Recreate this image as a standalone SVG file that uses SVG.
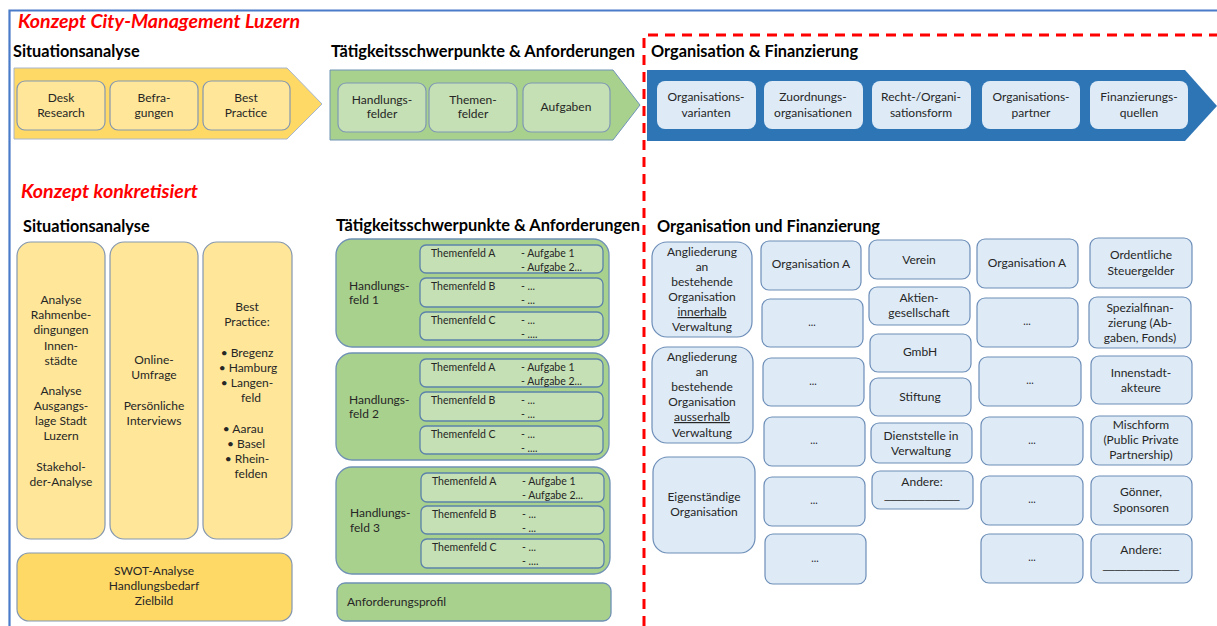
<svg xmlns="http://www.w3.org/2000/svg" width="1217" height="626" viewBox="0 0 1217 626">
<style>
text{font-family:Lato,"Liberation Sans",sans-serif;fill:#262626;font-size:12px}
.c{text-anchor:middle}
.h{font-weight:bold;font-size:16.3px;fill:#000}
.t{font-weight:bold;font-style:italic;font-size:18px;fill:#ff0000}
.s{font-size:10.5px}
.u{text-decoration:underline}
.ln{font-family:"Liberation Sans",sans-serif;font-size:11px}
.yb{fill:#ffe699;stroke:#8497b0;stroke-width:1.2}
.gb{fill:#c5e0b4;stroke:#7f98b4;stroke-width:1.2}
.hf{fill:#a9d18e;stroke:#6f91b4;stroke-width:1.3}
.tf{fill:#c5e0b4;stroke:#5b82aa;stroke-width:1.3}
.bb{fill:#deebf7;stroke:#6d8eb8;stroke-width:1.2}
.bt{fill:#deebf7}
</style>
<rect width="1217" height="626" fill="#fff"/>
<g id="frame" fill="none">
<path d="M9.5 626V10.5H1217" stroke="#4a7bc8" stroke-width="2.2"/>
<path d="M644 626V35H1217" stroke="#ff0000" stroke-width="3" stroke-dasharray="10 7"/>
</g>
<text class="t" x="18" y="28" textLength="282" lengthAdjust="spacingAndGlyphs">Konzept City-Management Luzern</text>
<text class="t" x="21" y="198" textLength="177" lengthAdjust="spacingAndGlyphs">Konzept konkretisiert</text>

<g id="phase1">
<text class="h" x="13" y="57">Situationsanalyse</text>
<polygon points="14,68 287,68 322,104 287,139 14,139" fill="#ffd966" stroke="#a8b6cc" stroke-width="1"/>
<g id="p1-desk"><rect class="yb" x="17" y="81" width="88" height="49" rx="8"/><text class="c" x="61" y="102">Desk</text><text class="c" x="61" y="117">Research</text></g>
<g id="p1-befr"><rect class="yb" x="110" y="81" width="88" height="49" rx="8"/><text class="c" x="154" y="102">Befra-</text><text class="c" x="154" y="117">gungen</text></g>
<g id="p1-best"><rect class="yb" x="203" y="81" width="87" height="49" rx="8"/><text class="c" x="246" y="102">Best</text><text class="c" x="246" y="117">Practice</text></g>
</g>

<g id="phase2">
<text class="h" x="331" y="57" textLength="304" lengthAdjust="spacingAndGlyphs">Tätigkeitsschwerpunkte &amp; Anforderungen</text>
<polygon points="330,70 613,70 640,105 613,140 330,140" fill="#a9d18e" stroke="#6f94b8" stroke-width="1"/>
<g id="p2-hf"><rect class="gb" x="338" y="83" width="88" height="49" rx="8"/><text class="c" x="382" y="104">Handlungs-</text><text class="c" x="382" y="118">felder</text></g>
<g id="p2-tf"><rect class="gb" x="429" y="83" width="88" height="49" rx="8"/><text class="c" x="473" y="104">Themen-</text><text class="c" x="473" y="118">felder</text></g>
<g id="p2-auf"><rect class="gb" x="523" y="83" width="87" height="49" rx="8"/><text class="c" x="566" y="111">Aufgaben</text></g>
</g>

<g id="phase3">
<text class="h" x="651" y="57" textLength="207" lengthAdjust="spacingAndGlyphs">Organisation &amp; Finanzierung</text>
<polygon points="647,70 1185,70 1217,106 1185,141 647,141" fill="#2e75b6"/>
<g id="p3-1"><rect class="bt" x="657" y="81" width="99" height="48" rx="8"/><text class="c" x="706" y="101">Organisations-</text><text class="c" x="706" y="117">varianten</text></g>
<g id="p3-2"><rect class="bt" x="764" y="81" width="99" height="48" rx="8"/><text class="c" x="813" y="101">Zuordnungs-</text><text class="c" x="813" y="117">organisationen</text></g>
<g id="p3-3"><rect class="bt" x="872" y="81" width="99" height="48" rx="8"/><text class="c" x="921" y="101">Recht-/Organi-</text><text class="c" x="921" y="117">sationsform</text></g>
<g id="p3-4"><rect class="bt" x="982" y="81" width="98" height="48" rx="8"/><text class="c" x="1031" y="101">Organisations-</text><text class="c" x="1031" y="117">partner</text></g>
<g id="p3-5"><rect class="bt" x="1090" y="81" width="98" height="48" rx="8"/><text class="c" x="1139" y="101">Finanzierungs-</text><text class="c" x="1139" y="117">quellen</text></g>
</g>

<g id="situation">
<text class="h" x="23" y="232">Situationsanalyse</text>
<g id="sa-analyse"><rect class="yb" x="17" y="242" width="88" height="297" rx="14"/>
<text class="c" x="61" y="304">Analyse</text><text class="c" x="61" y="319">Rahmenbe-</text><text class="c" x="61" y="334">dingungen</text><text class="c" x="61" y="350">Innen-</text><text class="c" x="61" y="365">städte</text>
<text class="c" x="61" y="395">Analyse</text><text class="c" x="61" y="410">Ausgangs-</text><text class="c" x="61" y="425">lage Stadt</text><text class="c" x="61" y="440">Luzern</text>
<text class="c" x="61" y="471">Stakehol-</text><text class="c" x="61" y="486">der-Analyse</text></g>
<g id="sa-umfrage"><rect class="yb" x="110" y="242" width="88" height="297" rx="14"/>
<text class="c" x="154" y="364">Online-</text><text class="c" x="154" y="379">Umfrage</text><text class="c" x="154" y="410">Persönliche</text><text class="c" x="154" y="425">Interviews</text></g>
<g id="sa-best"><rect class="yb" x="203" y="242" width="89" height="297" rx="14"/>
<text class="c" x="247" y="311">Best</text><text class="c" x="247" y="326">Practice:</text>
<text class="c" x="247" y="357">• Bregenz</text><text class="c" x="248" y="372">•  Hamburg</text><text class="c" x="247" y="387">•  Langen-</text><text class="c" x="251" y="402">feld</text>
<text class="c" x="243" y="433">• Aarau</text><text class="c" x="246" y="448">• Basel</text><text class="c" x="247" y="463">• Rhein-</text><text class="c" x="251" y="478">felden</text></g>
<g id="sa-swot"><rect x="17" y="553" width="275" height="68" rx="12" fill="#ffd966" stroke="#8497b0" stroke-width="1.2"/>
<text class="c" x="154" y="575">SWOT-Analyse</text><text class="c" x="154" y="590">Handlungsbedarf</text><text class="c" x="154" y="605">Zielbild</text></g>
</g>

<g id="taetigkeit">
<text class="h" x="336" y="231" textLength="304" lengthAdjust="spacingAndGlyphs">Tätigkeitsschwerpunkte &amp; Anforderungen</text>
<g id="hf1"><rect class="hf" x="336" y="239" width="273" height="108" rx="16"/>
<text x="349" y="290">Handlungs-</text><text x="349" y="304">feld 1</text>
<rect class="tf" x="420" y="245" width="183" height="28" rx="6"/><text class="s" x="431" y="257">Themenfeld A</text><text class="s" x="521" y="257">- Aufgabe 1</text><text class="s" x="521" y="271">- Aufgabe 2...</text>
<rect class="tf" x="420" y="278" width="183" height="29" rx="6"/><text class="s" x="431" y="290">Themenfeld B</text><text class="s" x="521" y="290">- ...</text><text class="s" x="521" y="304">- ...</text>
<rect class="tf" x="420" y="312" width="183" height="28" rx="6"/><text class="s" x="431" y="324">Themenfeld C</text><text class="s" x="521" y="324">- ...</text><text class="s" x="521" y="338">- ....</text></g>
<g id="hf2"><rect class="hf" x="336" y="353" width="273" height="107" rx="16"/>
<text x="349" y="404">Handlungs-</text><text x="349" y="418">feld 2</text>
<rect class="tf" x="420" y="359" width="183" height="28" rx="6"/><text class="s" x="431" y="371">Themenfeld A</text><text class="s" x="521" y="371">- Aufgabe 1</text><text class="s" x="521" y="385">- Aufgabe 2...</text>
<rect class="tf" x="420" y="392" width="183" height="29" rx="6"/><text class="s" x="431" y="404">Themenfeld B</text><text class="s" x="521" y="404">- ...</text><text class="s" x="521" y="418">- ...</text>
<rect class="tf" x="420" y="426" width="183" height="28" rx="6"/><text class="s" x="431" y="438">Themenfeld C</text><text class="s" x="521" y="438">- ...</text><text class="s" x="521" y="452">- ....</text></g>
<g id="hf3"><rect class="hf" x="336" y="467" width="274" height="107" rx="16"/>
<text x="350" y="517">Handlungs-</text><text x="350" y="532">feld 3</text>
<rect class="tf" x="421" y="473" width="183" height="29" rx="6"/><text class="s" x="432" y="485">Themenfeld A</text><text class="s" x="522" y="485">- Aufgabe 1</text><text class="s" x="522" y="499">- Aufgabe 2...</text>
<rect class="tf" x="421" y="506" width="183" height="28" rx="6"/><text class="s" x="432" y="518">Themenfeld B</text><text class="s" x="522" y="518">- ...</text><text class="s" x="522" y="532">- ...</text>
<rect class="tf" x="421" y="539" width="183" height="29" rx="6"/><text class="s" x="432" y="551">Themenfeld C</text><text class="s" x="522" y="551">- ...</text><text class="s" x="522" y="565">- ....</text></g>
<g id="anforderung"><rect class="hf" x="337" y="583" width="274" height="38" rx="8"/><text x="347" y="606">Anforderungsprofil</text></g>
</g>

<g id="orgfin">
<text class="h" x="657" y="232" textLength="223" lengthAdjust="spacingAndGlyphs">Organisation und Finanzierung</text>
<g id="o1-inner"><rect class="bb" x="652" y="242" width="100" height="95" rx="15"/>
<text class="c" x="702" y="256">Angliederung</text><text class="c" x="702" y="271">an</text><text class="c" x="702" y="286">bestehende</text><text class="c" x="702" y="301">Organisation</text><text class="c u" x="702" y="316">innerhalb</text><text class="c" x="702" y="331">Verwaltung</text></g>
<g id="o1-ausser"><rect class="bb" x="652" y="347" width="101" height="96" rx="15"/>
<text class="c" x="702" y="361">Angliederung</text><text class="c" x="702" y="376">an</text><text class="c" x="702" y="391">bestehende</text><text class="c" x="702" y="406">Organisation</text><text class="c u" x="702" y="421">ausserhalb</text><text class="c" x="702" y="437">Verwaltung</text></g>
<g id="o1-eigen"><rect class="bb" x="653" y="457" width="102" height="96" rx="15"/>
<text class="c" x="704" y="501">Eigenständige</text><text class="c" x="704" y="516">Organisation</text></g>

<g id="o2-1"><rect class="bb" x="761" y="241" width="100" height="49" rx="8"/><text class="c" x="811" y="268">Organisation A</text></g>
<g id="o2-2"><rect class="bb" x="762" y="299" width="101" height="48" rx="8"/><text class="c s" x="812" y="326">...</text></g>
<g id="o2-3"><rect class="bb" x="763" y="358" width="101" height="48" rx="8"/><text class="c s" x="813" y="385">...</text></g>
<g id="o2-4"><rect class="bb" x="764" y="417" width="101" height="49" rx="8"/><text class="c s" x="814" y="444">...</text></g>
<g id="o2-5"><rect class="bb" x="764" y="477" width="101" height="49" rx="8"/><text class="c s" x="814" y="504">...</text></g>
<g id="o2-6"><rect class="bb" x="765" y="534" width="101" height="50" rx="8"/><text class="c s" x="815" y="562">...</text></g>

<g id="o3-verein"><rect class="bb" x="869" y="240" width="101" height="39" rx="8"/><text class="c" x="919" y="264">Verein</text></g>
<g id="o3-ag"><rect class="bb" x="869" y="287" width="101" height="38" rx="8"/><text class="c" x="919" y="302">Aktien-</text><text class="c" x="919" y="317">gesellschaft</text></g>
<g id="o3-gmbh"><rect class="bb" x="870" y="334" width="101" height="38" rx="8"/><text class="c" x="920" y="356">GmbH</text></g>
<g id="o3-stiftung"><rect class="bb" x="870" y="378" width="101" height="38" rx="8"/><text class="c" x="920" y="401">Stiftung</text></g>
<g id="o3-dienst"><rect class="bb" x="871" y="423" width="101" height="40" rx="8"/><text class="c" x="921" y="440">Dienststelle in</text><text class="c" x="921" y="455">Verwaltung</text></g>
<g id="o3-andere"><rect class="bb" x="872" y="471" width="101" height="38" rx="8"/><text class="c" x="922" y="486">Andere:</text><text class="c ln" x="922" y="499" textLength="75" lengthAdjust="spacingAndGlyphs">_____________</text></g>

<g id="o4-1"><rect class="bb" x="977" y="239" width="101" height="49" rx="8"/><text class="c" x="1027" y="267">Organisation A</text></g>
<g id="o4-2"><rect class="bb" x="977" y="298" width="101" height="49" rx="8"/><text class="c s" x="1027" y="325">...</text></g>
<g id="o4-3"><rect class="bb" x="979" y="357" width="102" height="49" rx="8"/><text class="c s" x="1030" y="384">...</text></g>
<g id="o4-4"><rect class="bb" x="981" y="417" width="102" height="48" rx="8"/><text class="c s" x="1032" y="444">...</text></g>
<g id="o4-5"><rect class="bb" x="981" y="476" width="102" height="49" rx="8"/><text class="c s" x="1032" y="503">...</text></g>
<g id="o4-6"><rect class="bb" x="981" y="534" width="102" height="49" rx="8"/><text class="c s" x="1032" y="561">...</text></g>

<g id="o5-steuer"><rect class="bb" x="1090" y="238" width="102" height="50" rx="8"/><text class="c" x="1141" y="259">Ordentliche</text><text class="c" x="1141" y="275">Steuergelder</text></g>
<g id="o5-spezial"><rect class="bb" x="1089" y="297" width="102" height="51" rx="8"/><text class="c" x="1140" y="312">Spezialfinan-</text><text class="c" x="1140" y="327">zierung (Ab-</text><text class="c" x="1140" y="342">gaben, Fonds)</text></g>
<g id="o5-innen"><rect class="bb" x="1091" y="356" width="101" height="48" rx="8"/><text class="c" x="1141" y="377">Innenstadt-</text><text class="c" x="1141" y="392">akteure</text></g>
<g id="o5-misch"><rect class="bb" x="1091" y="416" width="101" height="49" rx="8"/><text class="c" x="1141" y="429">Mischform</text><text class="c" x="1141" y="444">(Public Private</text><text class="c" x="1141" y="459">Partnership)</text></g>
<g id="o5-goenner"><rect class="bb" x="1091" y="476" width="101" height="49" rx="8"/><text class="c" x="1141" y="496">Gönner,</text><text class="c" x="1141" y="512">Sponsoren</text></g>
<g id="o5-andere"><rect class="bb" x="1091" y="534" width="101" height="49" rx="8"/><text class="c" x="1141" y="554">Andere:</text><text class="c ln" x="1141" y="569" textLength="76" lengthAdjust="spacingAndGlyphs">_____________</text></g>
</g>
</svg>
